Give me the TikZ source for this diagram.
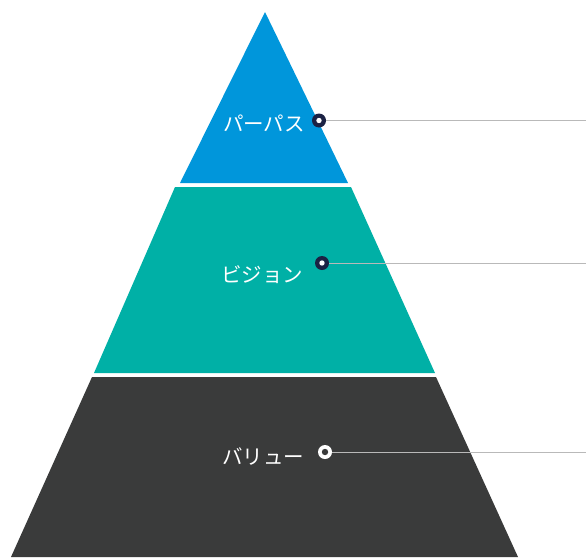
\documentclass[tikz,border=0pt]{standalone}
\usepackage{fontspec}
\newfontfamily\jp{Noto Sans CJK JP}
\definecolor{cblue}{RGB}{0,150,219}
\definecolor{cteal}{RGB}{0,176,166}
\definecolor{cdark}{RGB}{58,59,59}
\definecolor{cnavy}{RGB}{27,34,68}
\definecolor{cline}{RGB}{185,185,185}
\begin{document}
\begin{tikzpicture}[x=1pt,y=-1pt,
  lbl/.style={font=\jp\fontsize{20.5}{20.5}\selectfont, text=white, inner sep=0pt},
  dotnavy/.style={circle, fill=cnavy, minimum size=14pt, inner sep=0pt},
  dotwhite/.style={circle, fill=white, minimum size=14pt, inner sep=0pt},
  leader/.style={draw=cline, line width=0.8pt}]
\useasboundingbox (0,0) rectangle (586,557);
\fill[white] (0,0) rectangle (586,557);
% tiers
\fill[cblue] (265,12) -- (348,183) -- (180,183) -- cycle;
\fill[cteal] (175,187) -- (351,187) -- (435,373) -- (94,373) -- cycle;
\fill[cdark] (92,377) -- (436,377) -- (518,557) -- (11,557) -- cycle;
% labels
\node[lbl] (purpose) at (264,123) {パーパス};
\node[lbl] (vision) at (262,275) {ビジョン};
\node[lbl] (value) at (263,457) {バリュー};
% leader ends
\coordinate (e1) at (586,120.5);
\coordinate (e2) at (586,263);
\coordinate (e3) at (586,452);
% dots
\node[dotnavy] (d1) at (319,120.5) {};
\node[dotnavy] (d2) at (322,263) {};
\node[dotwhite] (d3) at (325,452) {};
\draw[leader] (d1.east) -- (e1);
\draw[leader] (d2.east) -- (e2);
\draw[leader] (d3.east) -- (e3);
\fill[white] (d1) circle (2.7);
\fill[white] (d2) circle (2.7);
\fill[cdark] (d3) circle (3.2);
\end{tikzpicture}
\end{document}
